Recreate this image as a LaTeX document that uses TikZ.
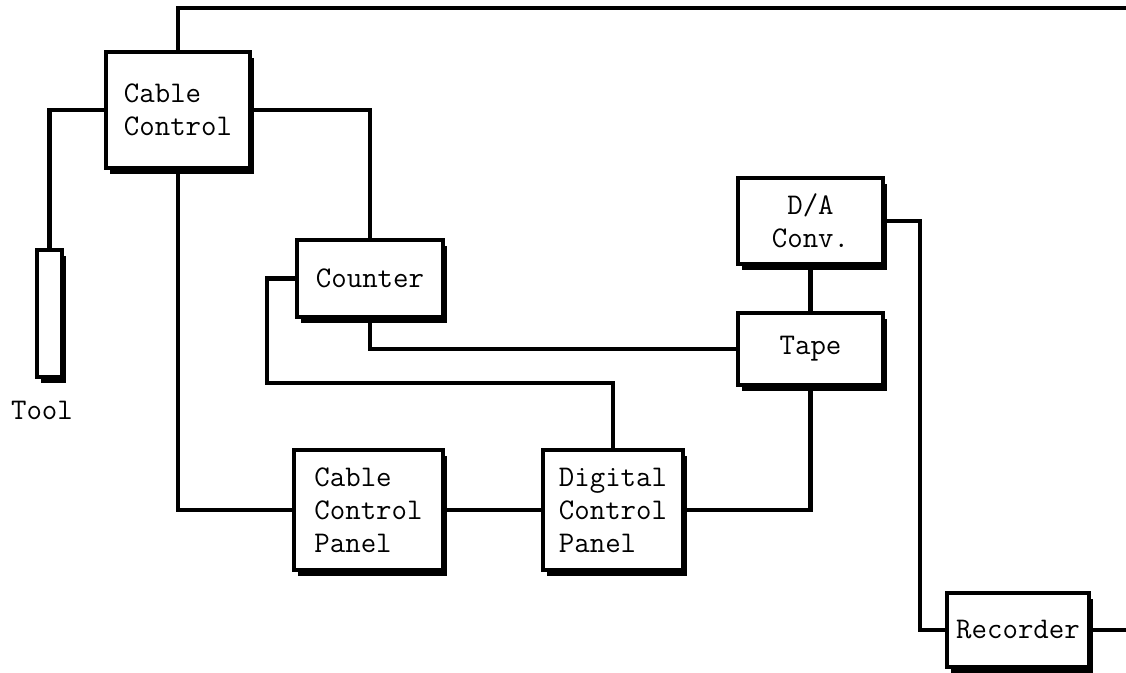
\documentclass[tikz,border=0pt]{standalone}
\usepackage{fontspec}
\usetikzlibrary{shadows}
\begin{document}
\begin{tikzpicture}[x=0.5pt,y=-0.5pt,
  blk/.style={draw=black,line width=1.9pt,fill=white,rectangle,inner sep=0pt,outer sep=0pt,
    align=left,font=\ttfamily\fontsize{15}{16.5}\selectfont,
    drop shadow={shadow xshift=2.2pt,shadow yshift=-2.8pt,fill=black,opacity=1}},
  wire/.style={line width=2.4pt,line join=miter,line cap=rect},
  lbl/.style={font=\ttfamily\fontsize{15}{16.5}\selectfont,inner sep=0pt}]
\useasboundingbox (0,0) rectangle (1126,673);
% blocks
\node[blk,minimum width=72pt,minimum height=58pt] (cc) at (178,110) {Cable\\Control};
\node[blk,minimum width=73pt,minimum height=38.5pt] (counter) at (370,278.5) {Counter};
\node[blk,minimum width=12.5pt,minimum height=63.5pt] (tool) at (49.5,313.5) {};
\node[lbl] (toollbl) at (42,410) {Tool};
\node[blk,align=center,minimum width=72.5pt,minimum height=43pt] (da) at (810.5,221) {D/A\\Conv.};
\node[blk,minimum width=72.5pt,minimum height=36pt] (tape) at (810.5,349) {Tape};
\node[blk,minimum width=74.5pt,minimum height=60pt] (ccp) at (368.5,510) {Cable\\Control\\Panel};
\node[blk,minimum width=70pt,minimum height=60pt] (dcp) at (613,510) {Digital\\Control\\Panel};
\node[blk,minimum width=71pt,minimum height=37pt] (rec) at (1018,630) {Recorder};
% free ends
\coordinate (tr) at (1126,8);
\coordinate (rr) at (1126,630);
\coordinate (c1) at (267,383);
\coordinate (d1) at (920,630);
% connectors
\draw[wire] (cc.north) |- (tr);
\draw[wire] (cc.west) -| (tool.north);
\draw[wire] (cc.east) -| (counter.north);
\draw[wire] (cc.south) |- (ccp.west);
\draw[wire] (counter.west) -| (c1) -| (dcp.north);
\draw[wire] (counter.south) |- (tape.west);
\draw[wire] (ccp.east) -- (dcp.west);
\draw[wire] (dcp.east) -| (tape.south);
\draw[wire] (da.south) -- (tape.north);
\draw[wire] (da.east) -| (d1) -- (rec.west);
\draw[wire] (rec.east) -- (rr);
\end{tikzpicture}
\end{document}
